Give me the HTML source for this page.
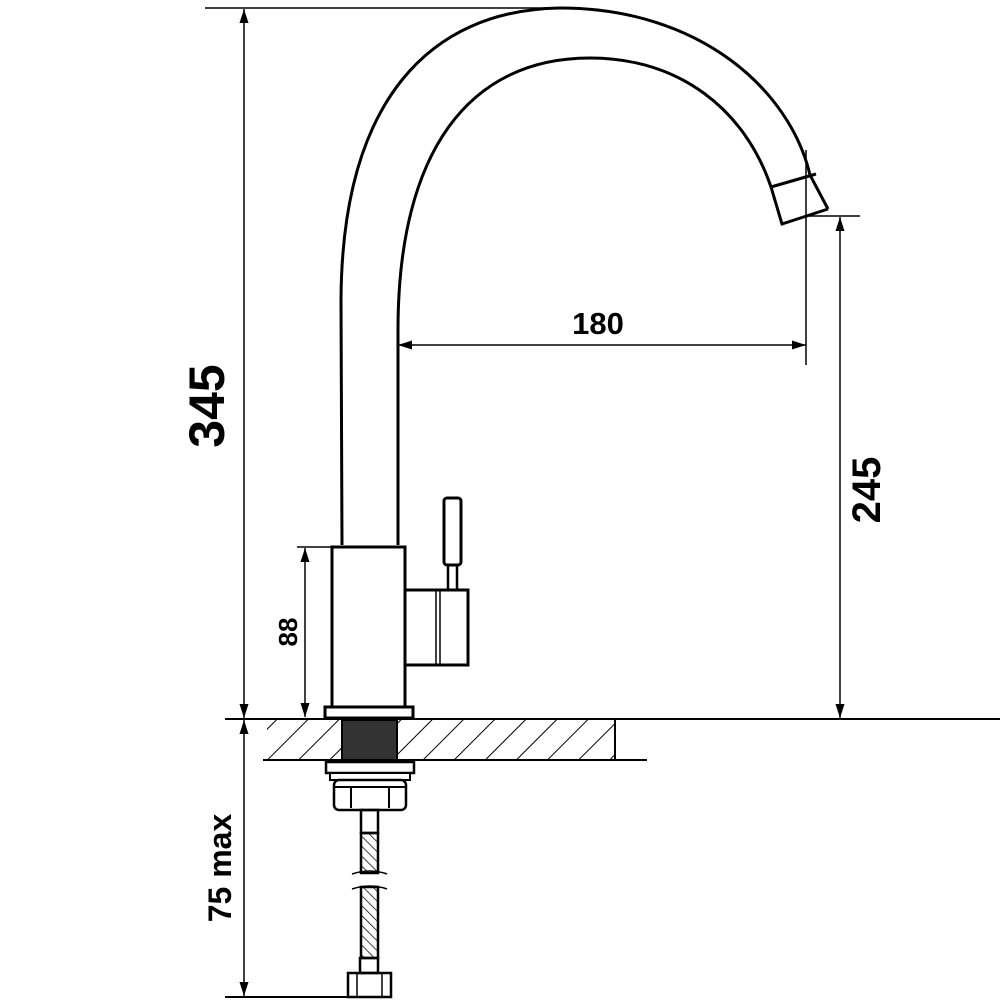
<!DOCTYPE html>
<html><head><style>body{margin:0;background:#fff}svg{display:block}text{font-family:"Liberation Sans",sans-serif;font-weight:bold;fill:#000}</style></head><body>
<svg width="1000" height="1000" viewBox="0 0 1000 1000" xmlns="http://www.w3.org/2000/svg">
<defs>
<pattern id="h" width="22" height="22" patternUnits="userSpaceOnUse" patternTransform="rotate(45)"><line x1="0" y1="0" x2="0" y2="22" stroke="#000" stroke-width="2"/></pattern>
<pattern id="h2" width="7" height="7" patternUnits="userSpaceOnUse" patternTransform="rotate(-45)"><line x1="0" y1="0" x2="0" y2="7" stroke="#000" stroke-width="1.5"/></pattern>
<marker id="a" markerWidth="14" markerHeight="10" refX="14" refY="4.5" orient="auto-start-reverse" markerUnits="userSpaceOnUse"><path d="M0,0 L14,4.5 L0,9 z" fill="#000"/></marker>
</defs>
<g fill="none" stroke="#000">
<path d="M342,545 L341,300 C342,100 430,10 560,8 C700,8 790,90 810,175 L828,209" stroke-width="3"/>
<path d="M398,545 L398,330 C398,150 470,58 590,58 C680,58 745,110 771,187 L782,224 L828,209" stroke-width="3"/>
<line x1="771" y1="187" x2="816" y2="174" stroke-width="3"/>
<rect x="332" y="547" width="73" height="160" stroke-width="3"/>
<rect x="325" y="707" width="88" height="11" stroke-width="3"/>
<rect x="405" y="590" width="63" height="75" stroke-width="3"/>
<line x1="436" y1="590" x2="436" y2="665" stroke-width="1.5"/>
<line x1="440" y1="590" x2="440" y2="665" stroke-width="1.5"/>
<rect x="444" y="498" width="17" height="67" rx="3" stroke-width="3"/>
<rect x="448" y="565" width="9" height="25" stroke-width="2.5"/>
<rect x="267" y="720" width="348" height="40" fill="url(#h)" stroke="none"/>
<line x1="225" y1="719" x2="1000" y2="719" stroke-width="2"/>
<line x1="263" y1="760" x2="647" y2="760" stroke-width="2"/>
<line x1="615" y1="720" x2="615" y2="760" stroke-width="2"/>
<rect x="342" y="720" width="55" height="40" fill="#333" stroke="#000" stroke-width="2"/>
<rect x="326" y="762" width="88" height="11" fill="#fff" stroke-width="2.5"/>
<rect x="330" y="773" width="80" height="7" fill="#fff" stroke-width="2"/>
<rect x="334" y="780" width="72" height="30" rx="5" fill="#fff" stroke-width="2.5"/>
<line x1="351" y1="787" x2="351" y2="808" stroke-width="2"/>
<line x1="389" y1="787" x2="389" y2="808" stroke-width="2"/>
<line x1="334" y1="787" x2="406" y2="787" stroke-width="2"/>
<rect x="361" y="810" width="17" height="23" stroke-width="2.5"/>
<rect x="361" y="833" width="17" height="40" fill="url(#h2)" stroke-width="2.5"/>
<rect x="361" y="887" width="17" height="71" fill="url(#h2)" stroke-width="2.5"/>
<path d="M352,874 Q370,868 387,874" stroke-width="1.5"/>
<path d="M352,889 Q370,883 387,889" stroke-width="1.5"/>
<rect x="360" y="958" width="18" height="15" stroke-width="2.5"/>
<rect x="348" y="973" width="43" height="24" stroke-width="2.5"/>
<line x1="357" y1="973" x2="357" y2="997" stroke-width="1.5"/>
<line x1="382" y1="973" x2="382" y2="997" stroke-width="1.5"/>
<line x1="225" y1="997" x2="391" y2="997" stroke-width="2"/>
<line x1="205" y1="8" x2="560" y2="8" stroke-width="1.5"/>
<line x1="244" y1="9" x2="244" y2="718" stroke-width="1.5" marker-start="url(#a)" marker-end="url(#a)"/>
<line x1="244" y1="720" x2="244" y2="996" stroke-width="1.5" marker-start="url(#a)" marker-end="url(#a)"/>
<line x1="297" y1="547" x2="332" y2="547" stroke-width="1.5"/>
<line x1="305" y1="548" x2="305" y2="717" stroke-width="1.5" marker-start="url(#a)" marker-end="url(#a)"/>
<line x1="806" y1="150" x2="806" y2="365" stroke-width="1.5"/>
<line x1="398" y1="345" x2="806" y2="345" stroke-width="1.5" marker-start="url(#a)" marker-end="url(#a)"/>
<line x1="806" y1="216" x2="860" y2="216" stroke-width="1.5"/>
<line x1="840" y1="217" x2="840" y2="718" stroke-width="1.5" marker-start="url(#a)" marker-end="url(#a)"/>
</g>
<text x="598" y="334" font-size="31" text-anchor="middle">180</text>
<text transform="translate(224,406) rotate(-90)" font-size="50" text-anchor="middle">345</text>
<text transform="translate(880,490) rotate(-90)" font-size="40" text-anchor="middle">245</text>
<text transform="translate(297,632) rotate(-90)" font-size="26" text-anchor="middle">88</text>
<text transform="translate(231,868) rotate(-90)" font-size="32" text-anchor="middle">75 max</text>
</svg>
</body></html>
